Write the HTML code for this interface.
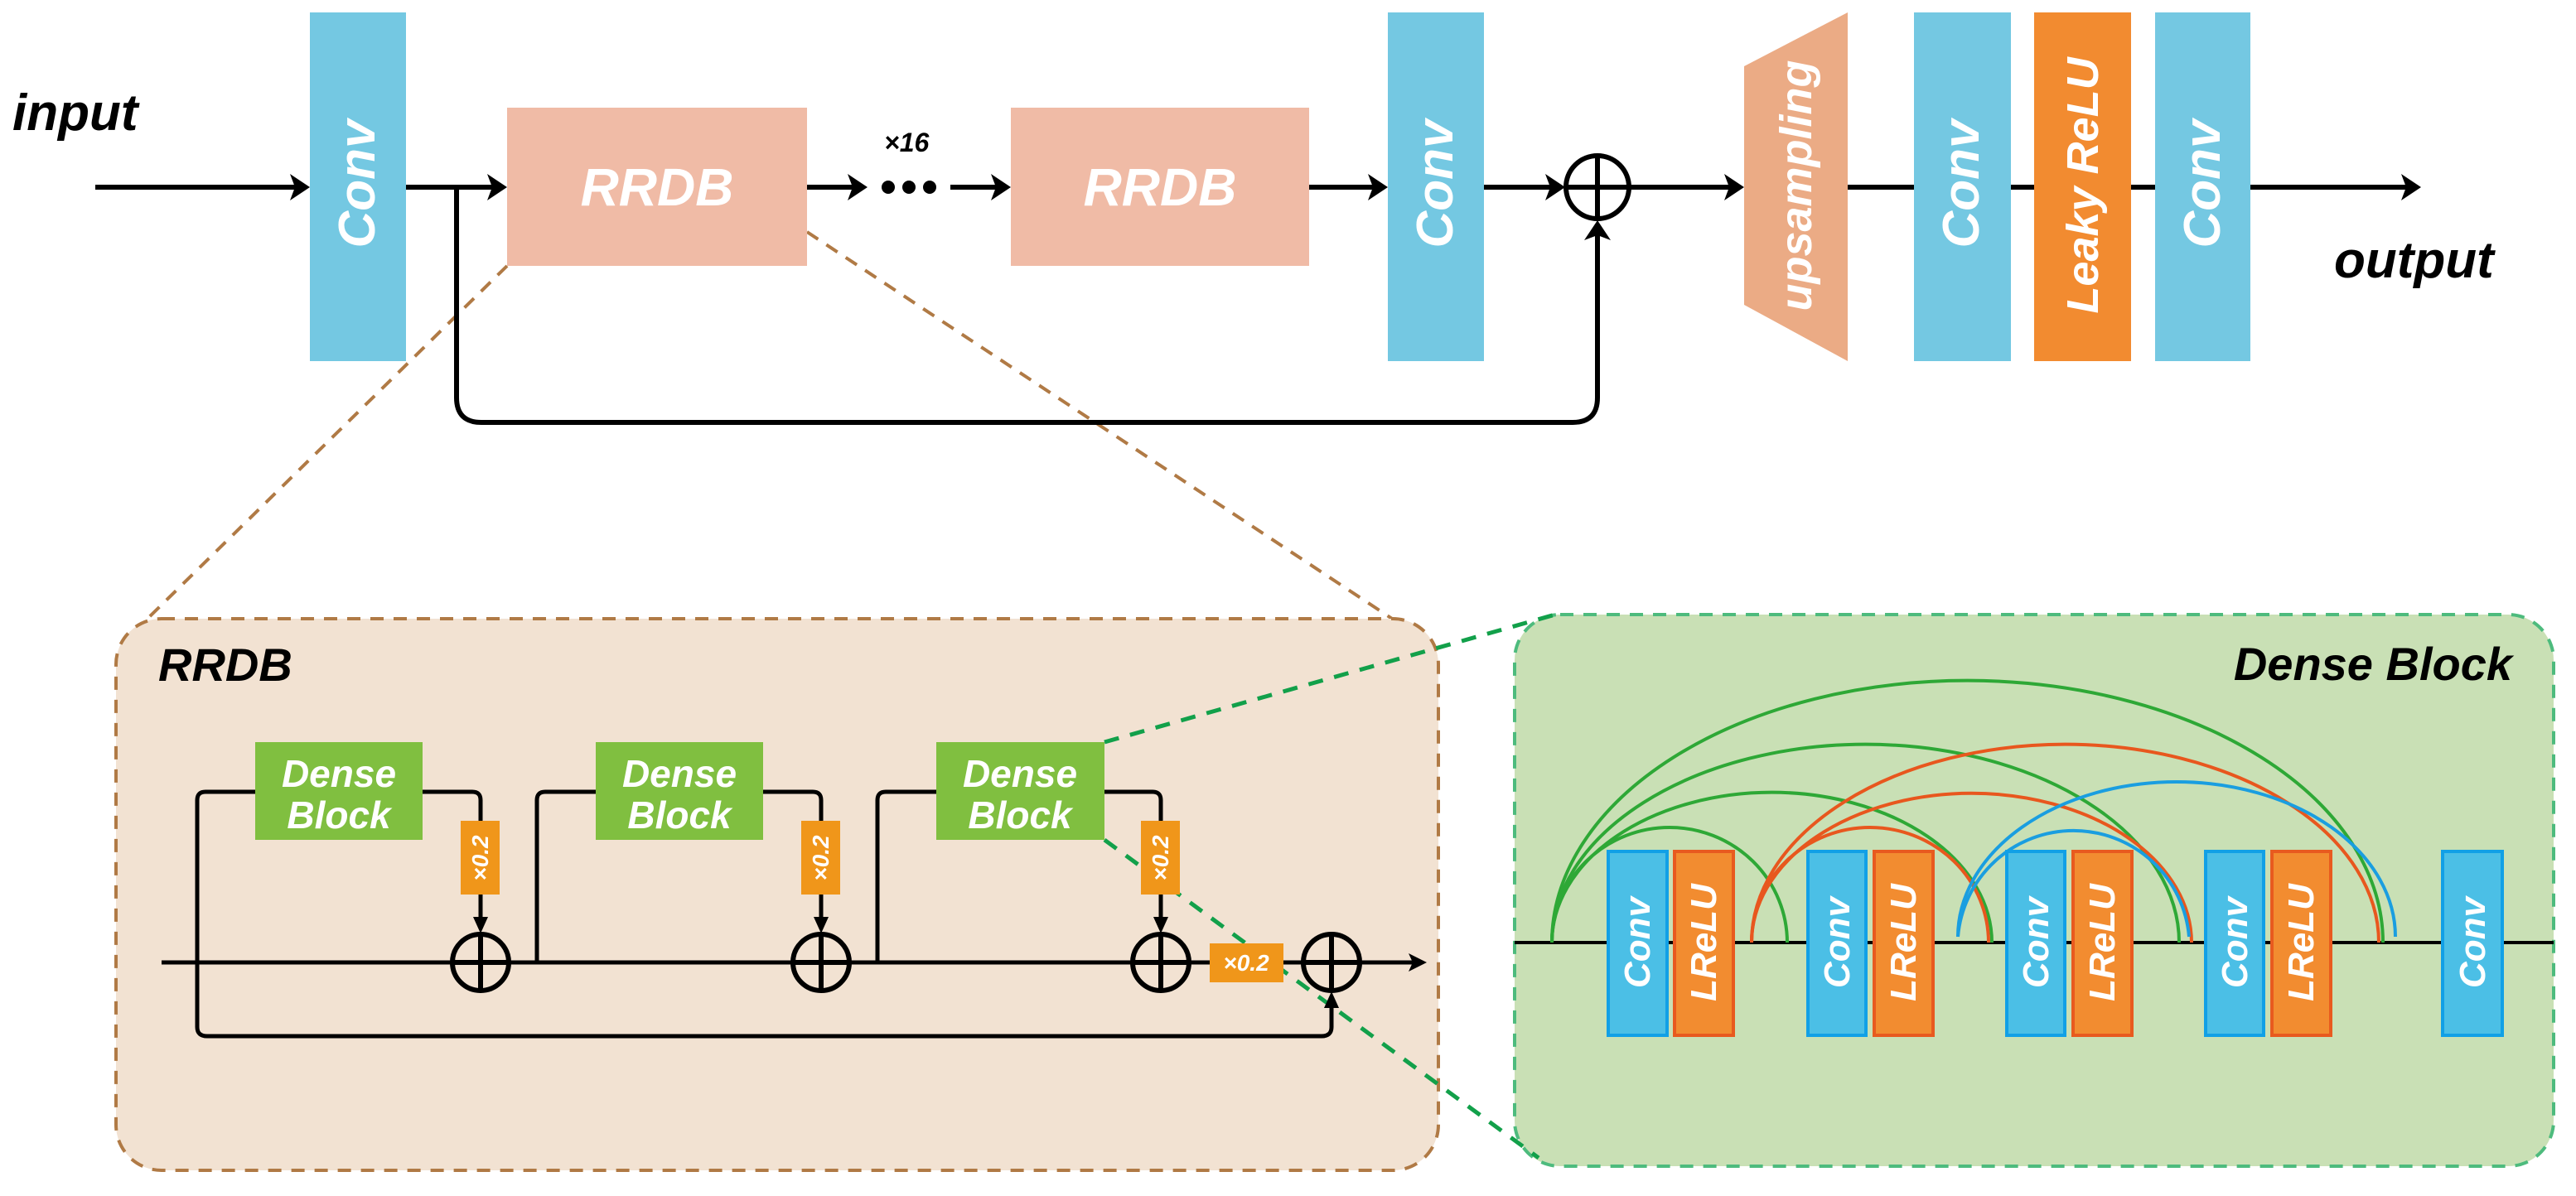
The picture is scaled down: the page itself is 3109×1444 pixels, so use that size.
<!DOCTYPE html>
<html><head><meta charset="utf-8"><style>
html,body{margin:0;padding:0;background:#fff}
svg{display:block}
text{font-family:"Liberation Sans","DejaVu Sans",sans-serif;font-weight:bold;font-style:italic}
</style></head><body>
<svg width="3109" height="1444" viewBox="0 0 3109 1444" xmlns="http://www.w3.org/2000/svg">
<!-- dashed zoom lines -->
<g fill="none" stroke="#b07a45" stroke-width="4" stroke-dasharray="16 12">
<line x1="612" y1="321" x2="180" y2="745"/>
<line x1="974" y1="280" x2="1730" y2="780"/>
</g>
<!-- RRDB panel -->
<rect x="140" y="747" width="1596" height="666" rx="55" fill="#f2e2d2" stroke="#b07a45" stroke-width="4" stroke-dasharray="16 12"/>
<!-- Dense panel -->
<rect x="1828" y="742" width="1254" height="666" rx="55" fill="#c9e0b5" stroke="#4dbb7d" stroke-width="4" stroke-dasharray="16 12"/>
<g fill="none" stroke="#12a04a" stroke-width="5" stroke-dasharray="18 14">
<line x1="1333" y1="896" x2="1877" y2="742"/>
<line x1="1333" y1="1014" x2="1857" y2="1398"/>
</g>

<!-- TOP ROW -->
<text x="15" y="157" font-size="62" fill="#000">input</text>
<text x="2817" y="335" font-size="62" fill="#000">output</text>
<g stroke="#000" stroke-width="6" fill="none">
<line x1="115" y1="226" x2="365" y2="226"/>
<line x1="490" y1="226" x2="600" y2="226"/>
<line x1="974" y1="226" x2="1035" y2="226"/>
<line x1="1147" y1="226" x2="1208" y2="226"/>
<line x1="1580" y1="226" x2="1665" y2="226"/>
<line x1="1791" y1="226" x2="1880" y2="226"/>
<line x1="1890" y1="226" x2="2095" y2="226"/>
<line x1="2230" y1="226" x2="2910" y2="226"/>
<path d="M551 226 V480 Q551 510 581 510 H1898 Q1928 510 1928 480 V280"/>
</g>
<g fill="#000">
<polygon points="374,226 350,210 356,226 350,242"/>
<polygon points="612,226 588,210 594,226 588,242"/>
<polygon points="1047,226 1023,210 1029,226 1023,242"/>
<polygon points="1220,226 1196,210 1202,226 1196,242"/>
<polygon points="1675,226 1651,210 1657,226 1651,242"/>
<polygon points="1889,226 1865,210 1871,226 1865,242"/>
<polygon points="2105,226 2081,210 2087,226 2081,242"/>
<polygon points="2922,226 2898,210 2904,226 2898,242"/>
<polygon points="1928,266 1912,290 1928,284 1944,290"/>
<circle cx="1072" cy="226" r="8"/><circle cx="1097" cy="226" r="8"/><circle cx="1122" cy="226" r="8"/>
</g>
<text x="1067" y="183" font-size="32" fill="#000">×16</text>
<circle cx="1928" cy="226" r="38" fill="none" stroke="#000" stroke-width="6"/>
<line x1="1928" y1="188" x2="1928" y2="264" stroke="#000" stroke-width="6"/>

<rect x="374" y="15" width="116" height="421" fill="#74c8e2"/>
<rect x="1675" y="15" width="116" height="421" fill="#74c8e2"/>
<rect x="2310" y="15" width="117" height="421" fill="#74c8e2"/>
<rect x="2455" y="15" width="117" height="421" fill="#f28b30"/>
<rect x="2601" y="15" width="115" height="421" fill="#74c8e2"/>
<polygon points="2105,80 2230,15 2230,436 2105,368" fill="#ebab85"/>
<rect x="612" y="130" width="362" height="191" fill="#f0bba6"/>
<rect x="1220" y="130" width="360" height="191" fill="#f0bba6"/>
<g fill="#fff">
<text x="793" y="248" font-size="64" text-anchor="middle">RRDB</text>
<text x="1400" y="248" font-size="64" text-anchor="middle">RRDB</text>
<text transform="translate(452,222) rotate(-90)" font-size="62" text-anchor="middle">Conv</text>
<text transform="translate(1753,222) rotate(-90)" font-size="62" text-anchor="middle">Conv</text>
<text transform="translate(2388,222) rotate(-90)" font-size="62" text-anchor="middle">Conv</text>
<text transform="translate(2679,222) rotate(-90)" font-size="62" text-anchor="middle">Conv</text>
<text transform="translate(2532,224) rotate(-90)" font-size="54" text-anchor="middle">Leaky ReLU</text>
<text transform="translate(2186,224) rotate(-90)" font-size="54" text-anchor="middle">upsampling</text>
</g>

<!-- RRDB panel content -->
<text x="191" y="822" font-size="56" fill="#000">RRDB</text>
<g stroke="#000" stroke-width="5" fill="none">
<line x1="195" y1="1162" x2="1705" y2="1162"/>
<path d="M310 956 H248 Q238 956 238 966 V1240 Q238 1251 250 1251 H1595 Q1607 1251 1607 1240 V1210"/>
<path d="M510 956 H570 Q580 956 580 966 V991"/>
<path d="M580 1080 V1115"/>
<path d="M719 956 H658 Q648 956 648 966 V1162"/>
<path d="M921 956 H981 Q991 956 991 966 V991"/>
<path d="M991 1080 V1115"/>
<path d="M1130 956 H1069 Q1059 956 1059 966 V1162"/>
<path d="M1333 956 H1391 Q1401 956 1401 966 V991"/>
<path d="M1401 1080 V1115"/>
</g>
<g fill="#000">
<polygon points="580,1127 571,1107 589,1107"/>
<polygon points="991,1127 982,1107 1000,1107"/>
<polygon points="1401,1127 1392,1107 1410,1107"/>
<polygon points="1607,1197 1598,1217 1616,1217"/>
<polygon points="1722,1162 1700,1151 1705,1162 1700,1173"/>
</g>
<g fill="none" stroke="#000" stroke-width="6">
<circle cx="580" cy="1162" r="34"/><line x1="580" y1="1128" x2="580" y2="1196"/><line x1="546" y1="1162" x2="614" y2="1162"/>
<circle cx="991" cy="1162" r="34"/><line x1="991" y1="1128" x2="991" y2="1196"/><line x1="957" y1="1162" x2="1025" y2="1162"/>
<circle cx="1401" cy="1162" r="34"/><line x1="1401" y1="1128" x2="1401" y2="1196"/><line x1="1367" y1="1162" x2="1435" y2="1162"/>
<circle cx="1607" cy="1162" r="34"/><line x1="1607" y1="1128" x2="1607" y2="1196"/><line x1="1573" y1="1162" x2="1641" y2="1162"/>
</g>
<g fill="#80bf40">
<rect x="308" y="896" width="202" height="118"/>
<rect x="719" y="896" width="202" height="118"/>
<rect x="1130" y="896" width="203" height="118"/>
</g>
<g fill="#f0961a">
<rect x="556" y="991" width="47" height="89"/>
<rect x="967" y="991" width="47" height="89"/>
<rect x="1377" y="991" width="47" height="89"/>
<rect x="1460" y="1139" width="89" height="47"/>
</g>
<g fill="#fff" text-anchor="middle">
<text x="409" y="950" font-size="46">Dense</text><text x="409" y="1000" font-size="46">Block</text>
<text x="820" y="950" font-size="46">Dense</text><text x="820" y="1000" font-size="46">Block</text>
<text x="1231" y="950" font-size="46">Dense</text><text x="1231" y="1000" font-size="46">Block</text>
<text transform="translate(589,1036) rotate(-90)" font-size="28">×0.2</text>
<text transform="translate(1000,1036) rotate(-90)" font-size="28">×0.2</text>
<text transform="translate(1410,1036) rotate(-90)" font-size="28">×0.2</text>
<text x="1504" y="1172" font-size="28">×0.2</text>
</g>

<!-- Dense panel content -->
<text x="3032" y="821" font-size="56" fill="#000" text-anchor="end">Dense Block</text>
<line x1="1828" y1="1138" x2="3082" y2="1138" stroke="#000" stroke-width="4"/>
<g fill="none" stroke-width="4">
<g stroke="#2ea836">
<path d="M1873 1138 A142 139 0 0 1 2157 1138"/>
<path d="M1873 1138 A265 181 0 0 1 2404 1138"/>
<path d="M1873 1138 A378 239 0 0 1 2630 1138"/>
<path d="M1873 1138 A501 316 0 0 1 2876 1138"/>
</g>
<g stroke="#e8571e">
<path d="M2114 1138 A143 139 0 0 1 2400 1138"/>
<path d="M2114 1138 A265 180 0 0 1 2645 1138"/>
<path d="M2114 1138 A378 239 0 0 1 2871 1138"/>
</g>
<g stroke="#1a9ee0">
<path d="M2363 1131 A140 140 0 0 1 2642 1131"/>
<path d="M2363 1131 A264 187 0 0 1 2891 1131"/>
</g>
</g>
<g stroke-width="4">
<rect x="1941" y="1028" width="71" height="222" fill="#4bbfe6" stroke="#11a0e6"/>
<rect x="2021" y="1028" width="71" height="222" fill="#f28c30" stroke="#e85a1f"/>
<rect x="2182" y="1028" width="70" height="222" fill="#4bbfe6" stroke="#11a0e6"/>
<rect x="2262" y="1028" width="71" height="222" fill="#f28c30" stroke="#e85a1f"/>
<rect x="2422" y="1028" width="70" height="222" fill="#4bbfe6" stroke="#11a0e6"/>
<rect x="2502" y="1028" width="71" height="222" fill="#f28c30" stroke="#e85a1f"/>
<rect x="2662" y="1028" width="70" height="222" fill="#4bbfe6" stroke="#11a0e6"/>
<rect x="2742" y="1028" width="71" height="222" fill="#f28c30" stroke="#e85a1f"/>
<rect x="2948" y="1028" width="72" height="222" fill="#4bbfe6" stroke="#11a0e6"/>
</g>
<g fill="#fff" text-anchor="middle">
<text transform="translate(1991,1138) rotate(-90)" font-size="44">Conv</text>
<text transform="translate(2071,1138) rotate(-90)" font-size="44">LReLU</text>
<text transform="translate(2232,1138) rotate(-90)" font-size="44">Conv</text>
<text transform="translate(2312,1138) rotate(-90)" font-size="44">LReLU</text>
<text transform="translate(2472,1138) rotate(-90)" font-size="44">Conv</text>
<text transform="translate(2552,1138) rotate(-90)" font-size="44">LReLU</text>
<text transform="translate(2712,1138) rotate(-90)" font-size="44">Conv</text>
<text transform="translate(2792,1138) rotate(-90)" font-size="44">LReLU</text>
<text transform="translate(2999,1138) rotate(-90)" font-size="44">Conv</text>
</g>
</svg>
</body></html>
